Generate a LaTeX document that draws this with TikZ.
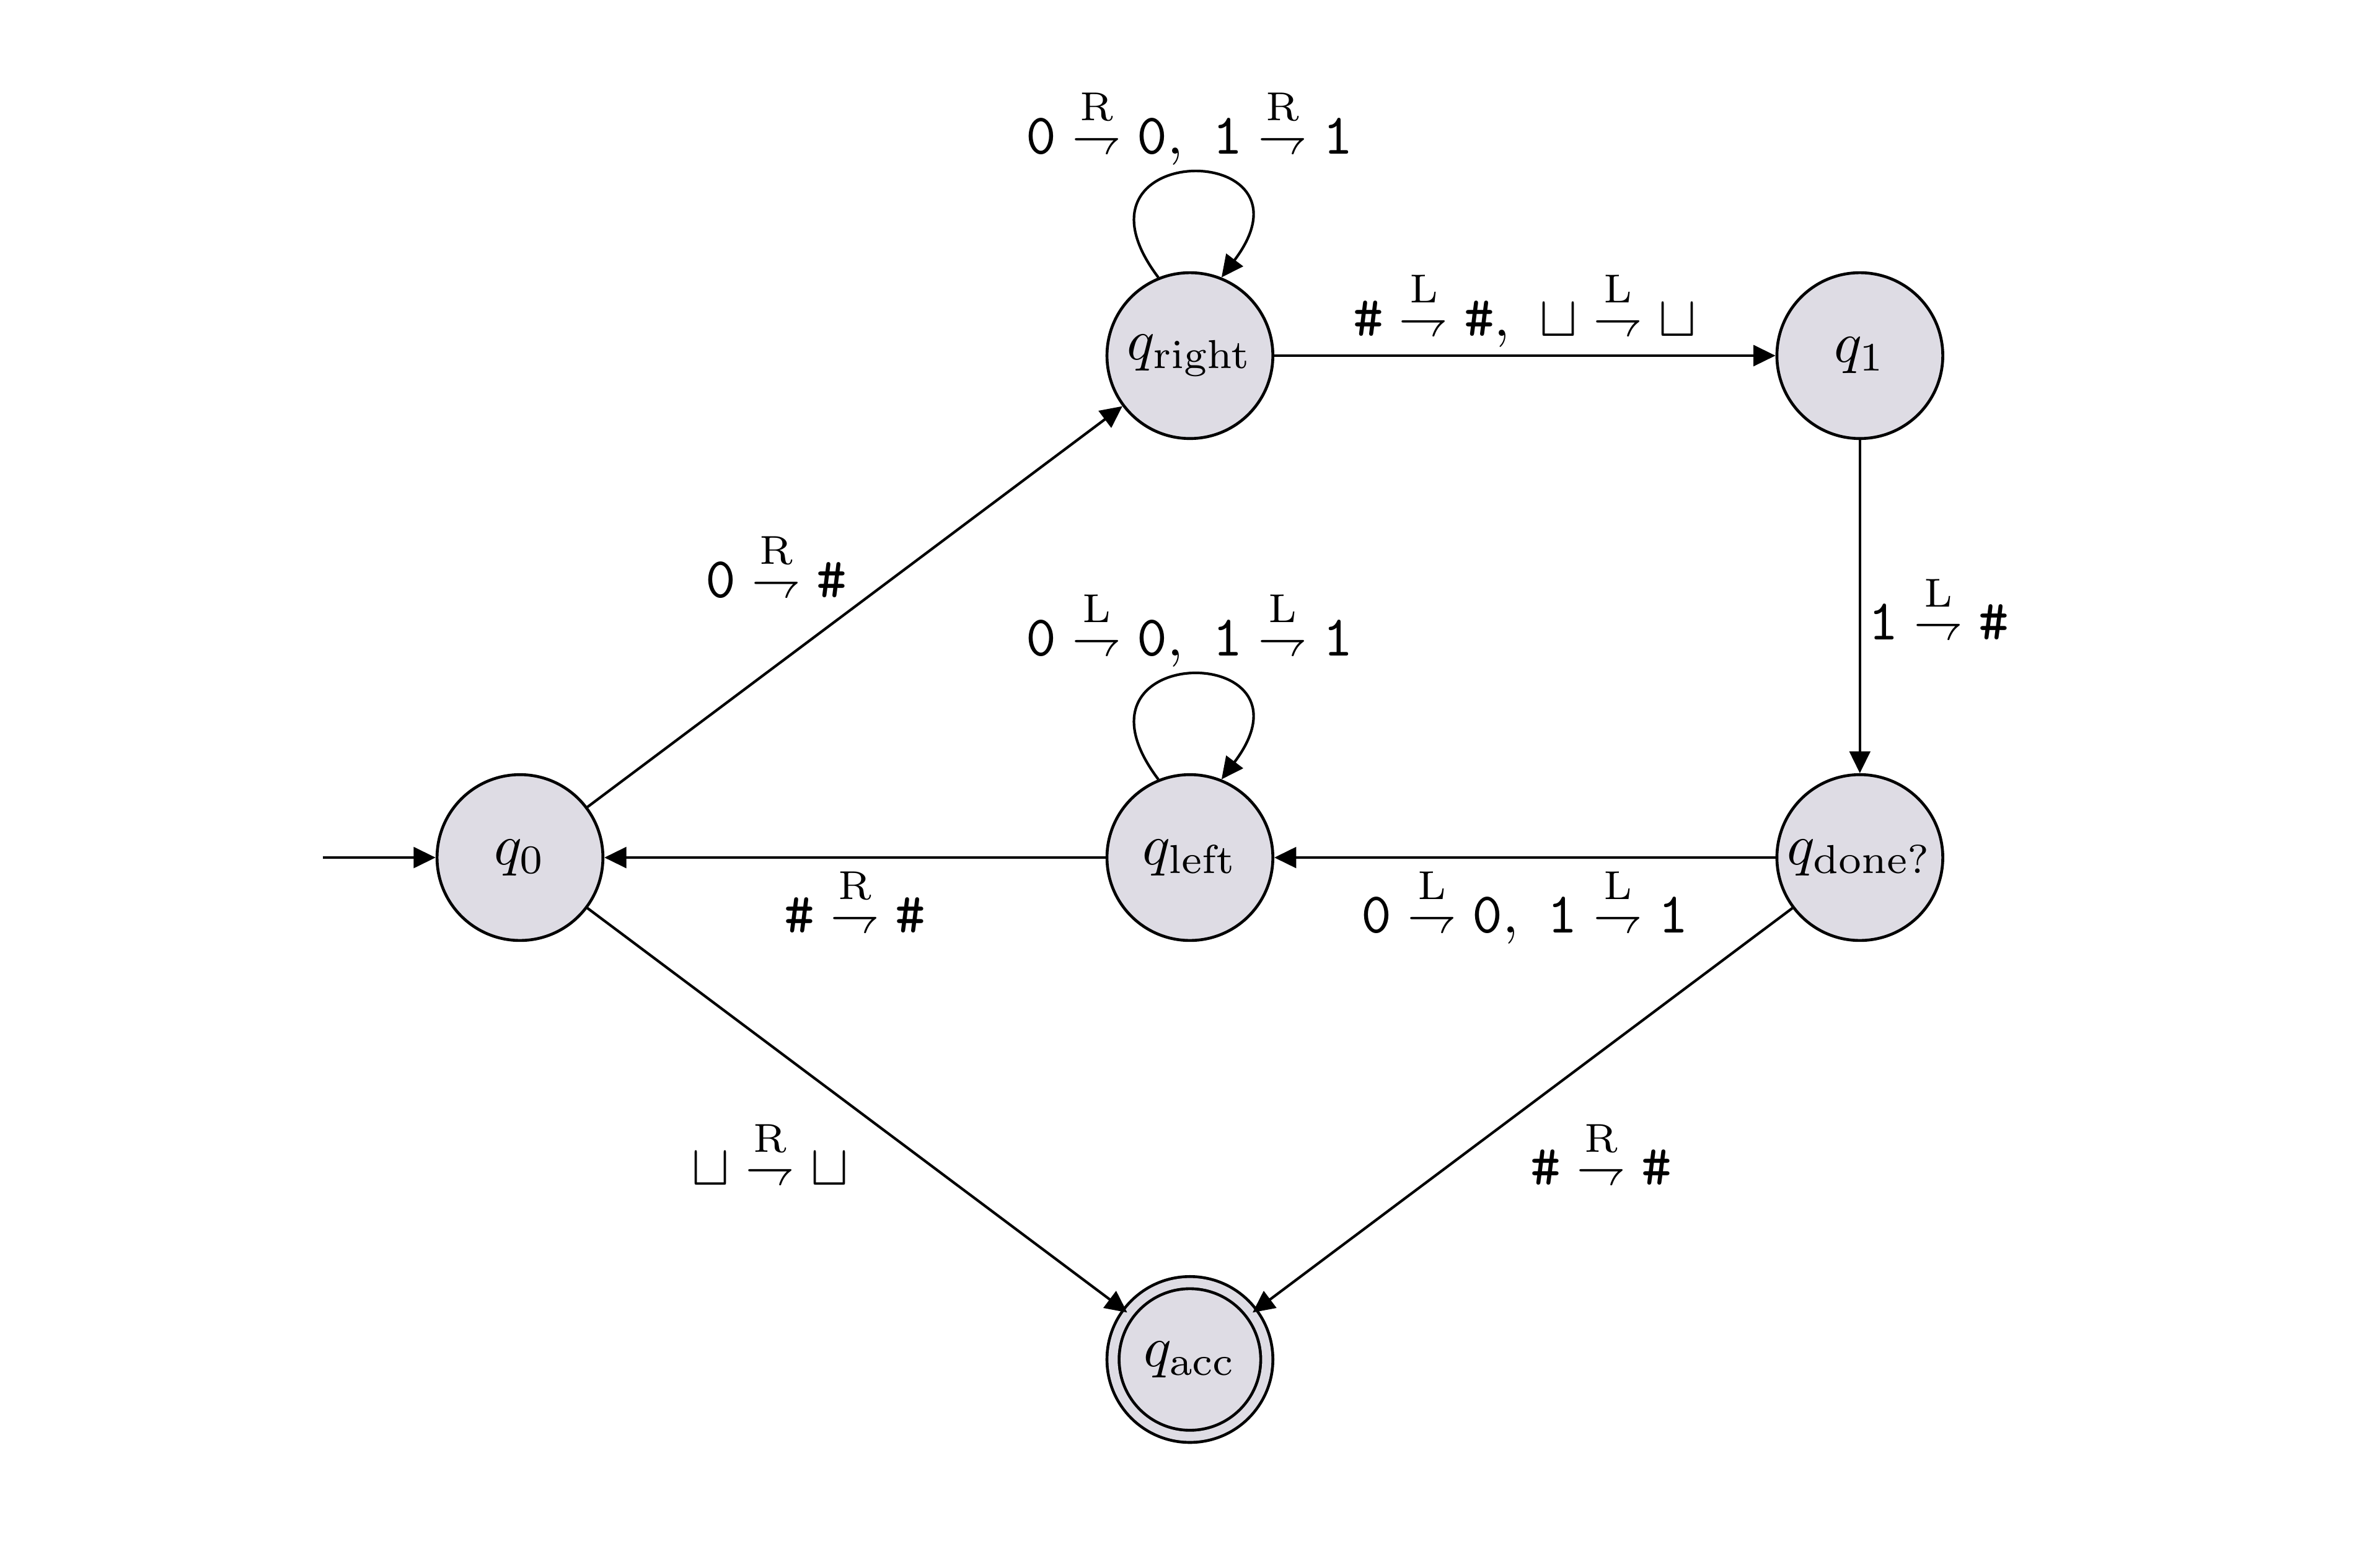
\documentclass[tikz,border=0pt]{standalone}
\usepackage{amsmath}
\usepackage{graphicx}
\usetikzlibrary{arrows.meta, positioning}
\definecolor{statefill}{HTML}{DEDCE4}

% tape move: read --dir--> write
\newcommand{\hmove}{\mathrel{\scalebox{0.84}[1]{$\rightharpoondown$}}}
\newcommand{\tmove}[3]{\texttt{#1} \overset{\mathrm{#2}\rule[-1pt]{0pt}{1pt}}{\hmove} \texttt{#3}}
\newcommand{\blank}{\ensuremath{\sqcup}}

\begin{document}
\begin{tikzpicture}[
    node distance=3.057cm and 4.079cm, on grid,
    tm-state/.style={circle, draw, line width=0.5pt, fill=statefill,
        minimum size=1.01cm, inner sep=0pt},
    tm-accept/.style={tm-state, double=statefill, double distance=1.6pt,
        minimum size=1.01cm-2.1pt},
    tm-arrow/.style={-{Triangle[length=3.8pt, width=3.6pt]}, line width=0.45pt},
    tm-label/.style={inner sep=1.2pt},
]
    \useasboundingbox (-3.166,-4.211) rectangle (11.325,5.223);

    % ---- states ----
    \node[tm-state] (q0) {$q_0$};
    \node[tm-state, right=of q0] (qleft) {$q_{\mathrm{left}}$};
    \node[tm-state, right=of qleft] (qdone) {$q_{\mathrm{done?}}$};
    \node[tm-state, above=of qleft] (qright) {$q_{\mathrm{right}}$};
    \node[tm-state, above=of qdone] (q1) {$q_1$};
    \node[tm-accept, below=of qleft] (qacc) {$q_{\mathrm{acc}}$};
    \coordinate[left=1.2cm of q0] (start);

    % ---- transitions ----
    \draw[tm-arrow] (start) -- (q0);
    \draw[tm-arrow] (q0) -- node[tm-label, above left] {$\tmove{0}{R}{\#}$} (qright);
    \draw[tm-arrow] (q0) -- node[tm-label, below left] {$\tmove{\blank}{R}{\blank}$} (qacc);
    \draw[tm-arrow] (qright) -- node[tm-label, above] {$\tmove{\#}{L}{\#},\ \tmove{\blank}{L}{\blank}$} (q1);
    \draw[tm-arrow] (q1) -- node[tm-label, right] {$\tmove{1}{L}{\#}$} (qdone);
    \draw[tm-arrow] (qdone) -- node[tm-label, below] {$\tmove{0}{L}{0},\ \tmove{1}{L}{1}$} (qleft);
    \draw[tm-arrow] (qleft) -- node[tm-label, below] {$\tmove{\#}{R}{\#}$} (q0);
    \draw[tm-arrow] (qdone) -- node[tm-label, below right] {$\tmove{\#}{R}{\#}$} (qacc);

    % ---- loops ----
    \draw[tm-arrow] (qright.112) .. controls +(127:1.06cm) and +(53:1.06cm) .. (qright.68)
        node[tm-label, midway, above] {$\tmove{0}{R}{0},\ \tmove{1}{R}{1}$};
    \draw[tm-arrow] (qleft.112) .. controls +(127:1.06cm) and +(53:1.06cm) .. (qleft.68)
        node[tm-label, midway, above] {$\tmove{0}{L}{0},\ \tmove{1}{L}{1}$};
\end{tikzpicture}
\end{document}
